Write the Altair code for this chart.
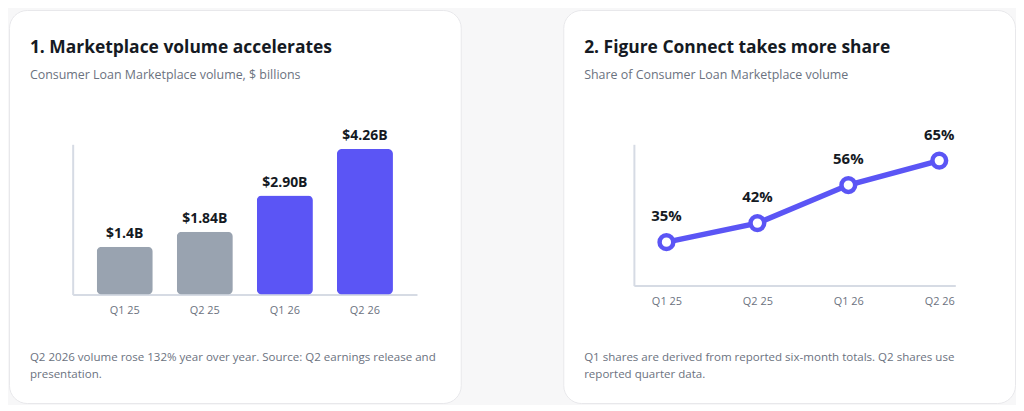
import altair as alt
import pandas as pd

# ---- data ----
quarters = ["Q1 25", "Q2 25", "Q1 26", "Q2 26"]
years = ["2025", "2025", "2026", "2026"]
volume = [1.4, 1.84, 2.90, 4.26]
volume_labels = ["$1.4B", "$1.84B", "$2.90B", "$4.26B"]
share = [35, 42, 56, 65]
share_labels = ["35%", "42%", "56%", "65%"]

title1 = "1. Marketplace volume accelerates"
subtitle1 = "Consumer Loan Marketplace volume, $ billions"
footer1 = ["Q2 2026 volume rose 132% year over year. Source: Q2 earnings release and",
           "presentation."]
title2 = "2. Figure Connect takes more share"
subtitle2 = "Share of Consumer Loan Marketplace volume"
footer2 = ["Q1 shares are derived from reported six-month totals. Q2 shares use",
           "reported quarter data."]

PURPLE = "#5b55f5"
GRAY = "#99a3b0"
DARK = "#151a23"
MUTED = "#6b7280"
AXIS = "#d6dbe4"
FONT = "Open Sans"

CARD_W, CARD_H = 454, 395

df1 = pd.DataFrame({"quarter": quarters, "year": years, "volume": volume, "label": volume_labels})
df2 = pd.DataFrame({"quarter": quarters, "share": share, "label": share_labels})


def texts(title, subtitle, footer):
    t = alt.Chart(pd.DataFrame({"t": [title]})).mark_text(
        align="left", baseline="alphabetic", fontSize=17.5, fontWeight="bold", color=DARK, font=FONT
    ).encode(x=alt.value(21), y=alt.value(43), text="t:N")
    s = alt.Chart(pd.DataFrame({"t": [subtitle]})).mark_text(
        align="left", baseline="alphabetic", fontSize=12.5, color=MUTED, font=FONT
    ).encode(x=alt.value(21), y=alt.value(69), text="t:N")
    f = alt.Chart(pd.DataFrame({"t": ["\n".join(footer)]})).mark_text(
        align="left", baseline="alphabetic", fontSize=11.6, color=MUTED, font=FONT,
        lineBreak="\n", lineHeight=17
    ).encode(x=alt.value(21), y=alt.value(353), text="t:N")
    return [t, s, f]


xaxis = dict(labelColor=MUTED, labelFontSize=11, labelFont=FONT, ticks=False, tickSize=0,
             labelPadding=10, domainColor=AXIS, domainWidth=2, grid=False, title=None, labelAngle=0)
yaxis = dict(labels=False, ticks=False, tickSize=0, domainColor=AXIS, domainWidth=2,
             grid=False, title=None)

# ---- left card ----
x1 = alt.X("quarter:N", sort=quarters,
           scale=alt.Scale(range=[64, 410], paddingInner=0.3, paddingOuter=0.3),
           axis=alt.Axis(offset=286 - CARD_H, **xaxis))
y1 = alt.Y("volume:Q", scale=alt.Scale(domain=[0, 4.4], range=[286, 135], nice=False, zero=True),
           axis=alt.Axis(offset=-64, **yaxis))

bars = alt.Chart(df1).mark_bar(cornerRadius=5).encode(
    x=x1, y=y1,
    color=alt.Color("year:N", scale=alt.Scale(domain=["2025", "2026"], range=[GRAY, PURPLE]), legend=None),
)
bar_labels = alt.Chart(df1).mark_text(
    baseline="alphabetic", dy=-9, fontSize=14, fontWeight="bold", color=DARK, font=FONT
).encode(x=x1, y=y1, text="label:N")

left = alt.layer(bars, bar_labels, *texts(title1, subtitle1, footer1)).properties(
    width=CARD_W, height=CARD_H)

# ---- right card ----
x2 = alt.X("quarter:N", sort=quarters,
           scale=alt.Scale(type="point", range=[71, 394], padding=0.267, align=0.67),
           axis=alt.Axis(offset=277 - CARD_H, **xaxis))
y2 = alt.Y("share:Q", scale=alt.Scale(domain=[19, 71], range=[277, 135], nice=False, zero=False),
           axis=alt.Axis(offset=-71, **yaxis))

line = alt.Chart(df2).mark_line(color=PURPLE, strokeWidth=5.5).encode(x=x2, y=y2)
pts = alt.Chart(df2).mark_point(filled=True, fill="white", stroke=PURPLE, strokeWidth=4.5,
                                size=190, opacity=1, shape="circle").encode(x=x2, y=y2)
pt_labels = alt.Chart(df2).mark_text(
    baseline="alphabetic", dy=-21, fontSize=15, fontWeight="bold", color=DARK, font=FONT
).encode(x=x2, y=y2, text="label:N")

right = alt.layer(line, pts, pt_labels, *texts(title2, subtitle2, footer2)).properties(
    width=CARD_W, height=CARD_H)

chart = alt.hconcat(left, right, spacing=101).configure(
    background="#f7f7f8",
    padding={"left": 0, "top": 0, "right": 0, "bottom": 0},
    font=FONT,
).configure_view(
    fill="white", stroke="#e8e8eb", strokeWidth=1, cornerRadius=18
)

chart.save("out.html", embed_options={"renderer": "svg", "actions": False})
